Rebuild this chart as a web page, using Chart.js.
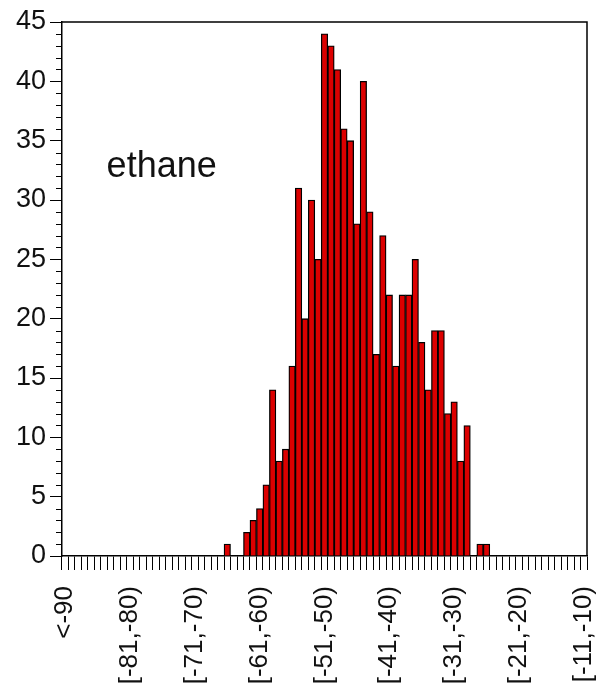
<!DOCTYPE html>
<html><head><meta charset="utf-8">
<script src="https://cdn.jsdelivr.net/npm/chart.js@4/dist/chart.umd.min.js"></script>
<style>html,body{margin:0;padding:0;background:#fff}#wrap{width:606px;height:696px;position:relative}</style>
</head><body><div id="wrap"><canvas id="c"></canvas></div>
<script>
// Categories (histogram bins)
const categories = [
 "<-90",
 "[-90,-89)","[-89,-88)","[-88,-87)","[-87,-86)","[-86,-85)","[-85,-84)","[-84,-83)","[-83,-82)","[-82,-81)","[-81,-80)",
 "[-80,-79)","[-79,-78)","[-78,-77)","[-77,-76)","[-76,-75)","[-75,-74)","[-74,-73)","[-73,-72)","[-72,-71)","[-71,-70)",
 "[-70,-69)","[-69,-68)","[-68,-67)","[-67,-66)","[-66,-65)","[-65,-64)","[-64,-63)","[-63,-62)","[-62,-61)","[-61,-60)",
 "[-60,-59)","[-59,-58)","[-58,-57)","[-57,-56)","[-56,-55)","[-55,-54)","[-54,-53)","[-53,-52)","[-52,-51)","[-51,-50)",
 "[-50,-49)","[-49,-48)","[-48,-47)","[-47,-46)","[-46,-45)","[-45,-44)","[-44,-43)","[-43,-42)","[-42,-41)","[-41,-40)",
 "[-40,-39)","[-39,-38)","[-38,-37)","[-37,-36)","[-36,-35)","[-35,-34)","[-34,-33)","[-33,-32)","[-32,-31)","[-31,-30)",
 "[-30,-29)","[-29,-28)","[-28,-27)","[-27,-26)","[-26,-25)","[-25,-24)","[-24,-23)","[-23,-22)","[-22,-21)","[-21,-20)",
 "[-20,-19)","[-19,-18)","[-18,-17)","[-17,-16)","[-16,-15)","[-15,-14)","[-14,-13)","[-13,-12)","[-12,-11)","[-11,-10)"
];
// Counts per bin (ethane)
const counts = [
 0,
 0,0,0,0,0,0,0,0,0,0,
 0,0,0,0,0,0,0,0,0,0,
 0,0,0,0,1,0,0,2,3,4,
 6,14,8,9,16,31,20,30,25,44,
 43,41,36,35,28,40,29,17,27,22,
 16,22,22,25,18,14,19,19,12,13,
 8,11,0,1,1,0,0,0,0,0,
 0,0,0,0,0,0,0,0,0,0
];
// Tick labels shown on the x axis
const shownLabels = ["<-90","[-81,-80)","[-71,-70)","[-61,-60)","[-51,-50)","[-41,-40)","[-31,-30)","[-21,-20)","[-11,-10)"];
const yMin = 0, yMax = 45, yMajorStep = 5, yMinorStep = 1;
const panelLabel = "ethane";

const FONT = "'Liberation Sans', Arial, Helvetica, sans-serif";

const framePlugin = {
  id: 'frame',
  afterDraw(chart) {
    const ctx = chart.ctx, a = chart.chartArea, ys = chart.scales.y, xs = chart.scales.x;
    ctx.save();
    ctx.strokeStyle = '#000';
    ctx.lineWidth = 1.5;
    ctx.beginPath();
    ctx.moveTo(a.left, a.top); ctx.lineTo(a.right, a.top); ctx.lineTo(a.right, a.bottom);
    ctx.stroke();
    // minor y ticks
    ctx.lineWidth = 1;
    ctx.beginPath();
    for (let v = yMin; v <= yMax; v += yMinorStep) {
      if (v % yMajorStep === 0) continue;
      const py = Math.round(ys.getPixelForValue(v)) + 0.5;
      ctx.moveTo(a.left - 6, py); ctx.lineTo(a.left, py);
    }
    ctx.stroke();
    // panel label
    ctx.fillStyle = '#111';
    ctx.font = "36px " + FONT;
    ctx.textBaseline = 'middle';
    ctx.textAlign = 'left';
    ctx.fillText(panelLabel, xs.getPixelForValue(7) - 4, ys.getPixelForValue(32.8));
    ctx.restore();
  }
};

new Chart(document.getElementById('c'), {
  type: 'bar',
  data: {
    labels: categories,
    datasets: [{
      data: counts,
      backgroundColor: '#dc0000',
      borderColor: '#000',
      borderWidth: 1.3,
      borderSkipped: 'start',
      categoryPercentage: 1.0,
      barPercentage: 1.0
    }]
  },
  options: {
    responsive: true,
    maintainAspectRatio: false,
    animation: false,
    layout: { padding: { top: 22, right: 19, left: 0, bottom: 0 } },
    plugins: { legend: { display: false }, tooltip: { enabled: false } },
    scales: {
      x: {
        type: 'category',
        offset: true,
        grid: { display: true, drawOnChartArea: false, drawTicks: true, tickLength: 14, color: '#000', lineWidth: 1, offset: true },
        border: { display: true, color: '#000', width: 1.5 },
        ticks: {
          autoSkip: false, maxRotation: 90, minRotation: 90, padding: 16,
          color: '#111', font: { family: FONT, size: 26 },
          callback: function(v) { const l = this.getLabelForValue(v); return shownLabels.includes(l) ? l : ''; }
        },
        afterFit(s) { s.height = 140; s.paddingLeft = 0; s.paddingRight = 0; }
      },
      y: {
        min: yMin, max: yMax,
        grid: { display: true, drawOnChartArea: false, drawTicks: true, tickLength: 12, color: '#000', lineWidth: 1 },
        border: { display: true, color: '#000', width: 1.5 },
        ticks: { stepSize: yMajorStep, padding: 4, color: '#111', font: { family: FONT, size: 27 } },
        afterFit(s) { s.width = 62; s.paddingTop = 0; s.paddingBottom = 0; }
      }
    }
  },
  plugins: [framePlugin]
});
</script>
</body></html>
